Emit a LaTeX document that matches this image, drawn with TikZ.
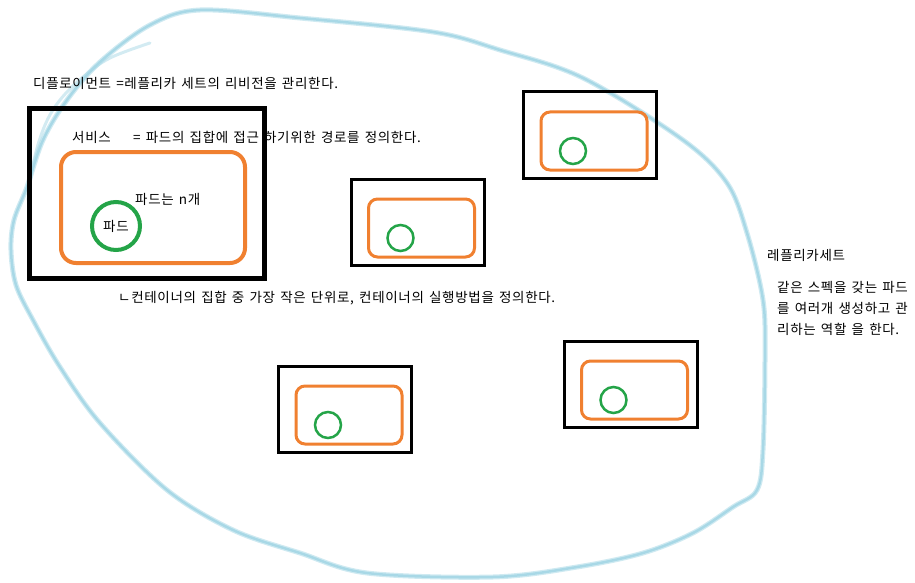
\documentclass[tikz,border=0pt]{standalone}
\usepackage{fontspec}
\setmainfont{Noto Sans CJK KR}[LetterSpace=5, WordSpace=1.4]
\usetikzlibrary{positioning}

\definecolor{skyline}{RGB}{168,216,230}
\definecolor{boxorange}{RGB}{240,128,48}
\definecolor{podgreen}{RGB}{36,164,72}

\tikzset{
  label/.style={anchor=west, inner sep=0pt, font=\fontsize{13.5}{21}\selectfont},
  frame/.style={draw=black, inner sep=0pt, rectangle},
  tray/.style={draw=boxorange, inner sep=0pt, rounded corners=#1},
  pod/.style={draw=podgreen, circle, inner sep=0pt}
}

\begin{document}
\begin{tikzpicture}[x=1pt, y=-1pt]
\useasboundingbox (0,0) rectangle (915,583);

% replica set outline
\draw[skyline, line width=5pt, opacity=.55, line cap=round]
  plot[smooth cycle, tension=.55] coordinates {(200,10) (300,18) (433,32) (500,50) (583,78) (683,140) (727,183) (747,233) (763,300) (765,357) (763,450) (757,490) (733,507) (693,533) (643,553) (577,567) (493,577) (367,573) (300,553) (233,530) (167,490) (100,423) (60,367) (33,320) (16,285) (11,250) (14,220) (27,187) (43,140) (67,100) (100,62) (150,25)};
\draw[skyline, line width=2.5pt, line cap=round]
  plot[smooth cycle, tension=.55] coordinates {(200,10) (300,18) (433,32) (500,50) (583,78) (683,140) (727,183) (747,233) (763,300) (765,357) (763,450) (757,490) (733,507) (693,533) (643,553) (577,567) (493,577) (367,573) (300,553) (233,530) (167,490) (100,423) (60,367) (33,320) (16,285) (11,250) (14,220) (27,187) (43,140) (67,100) (100,62) (150,25)};
\draw[skyline, line width=3pt, opacity=.5, line cap=round]
  plot[smooth, tension=.6] coordinates {(150,43) (110,58) (83,77) (60,100) (45,125) (34,160) (28,200)};

% first deployment with its pod
\node[frame, line width=5pt, minimum width=235pt, minimum height=169pt] (b0) at (146.5,193.5) {};
\node[tray=15pt, line width=4pt, minimum width=184pt, minimum height=111pt] (o0) at (153,207.5) {};
\node[pod, line width=4pt, minimum size=48pt] (g0) at (116,226) {};

% the other deployments
\foreach \i/\x/\y in {1/417.5/222, 2/590/135, 3/345/409, 4/630.5/384}{
  \node[frame, line width=3pt, minimum width=133pt, minimum height=86pt] (b\i) at (\x,\y) {};
  \node[tray=9pt, line width=3pt, minimum width=106pt, minimum height=58pt] (o\i) at ([shift={(4,6)}]b\i.center) {};
  \node[pod, line width=2.5pt, minimum size=26pt] (g\i) at ([shift={(-17,16)}]b\i.center) {};
}

\node[label] (dep) at (33,83) {디플로이먼트 =레플리카 세트의 리비전을 관리한다.};
\node[label] (svc) at (72,137) {서비스};
\node[label] (svcdesc) at (133,137) {= 파드의 집합에 접근 하기위한 경로를 정의한다.};
\node[label] (podn) at (135,199) {파드는 n개};
\node[label, anchor=center] (podtxt) at (g0.center) {파드};
\node[label] (ctr) at (118,298) {ㄴ컨테이너의 집합 중 가장 작은 단위로, 컨테이너의 실행방법을 정의한다.};
\node[label] (rs) at (767,255) {레플리카세트};
\node[label, align=left] (rsdesc) at (777,308) {같은 스펙을 갖는 파드\\를 여러개 생성하고 관\\리하는 역할 을 한다.};

\end{tikzpicture}
\end{document}
